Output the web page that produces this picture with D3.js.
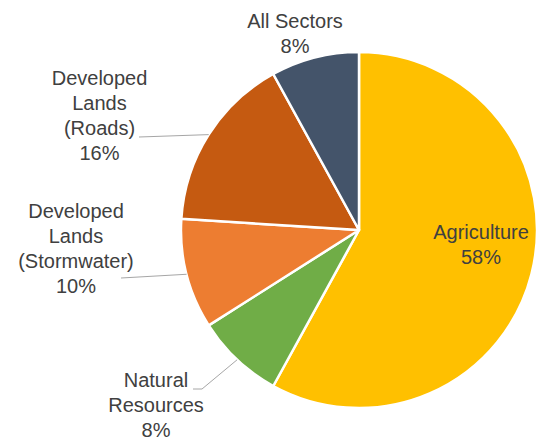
<!DOCTYPE html>
<html><head><meta charset="utf-8">
<script src="https://cdn.jsdelivr.net/npm/d3@7"></script>
<style>body{margin:0;background:#fff;}svg{display:block;}</style>
</head><body>
<svg id="c" width="545" height="444"></svg>
<script>
const categories = ["Agriculture", "Natural Resources", "Developed Lands (Stormwater)", "Developed Lands (Roads)", "All Sectors"];
const values = [58, 8, 10, 16, 8];
const colors = ["#FFC000", "#70AD47", "#ED7D31", "#C55A11", "#44546A"];
const labelLines = [["Agriculture"], ["Natural", "Resources"], ["Developed", "Lands", "(Stormwater)"], ["Developed", "Lands", "(Roads)"], ["All Sectors"]];
// layout: label centre x, first baseline y, leader line bend (null = none)
const labelLayout = [
  {x: 481, y: 239, leader: null},
  {x: 156, y: 387, leader: [[193, 389], [202, 389]]},
  {x: 76, y: 218, leader: [[121, 278]]},
  {x: 99.5, y: 85, leader: [[139, 137]]},
  {x: 295, y: 28, leader: null}
];
const cx = 359, cy = 230, R = 178, lineH = 25;

const svg = d3.select("#c");
const g = svg.append("g").attr("transform", `translate(${cx},${cy})`);
const pie = d3.pie().sort(null).value(d => d)(values);
const arc = d3.arc().innerRadius(0).outerRadius(R);
const total = d3.sum(values);

g.selectAll("path").data(pie).join("path")
  .attr("d", arc)
  .attr("fill", (d, i) => colors[i])
  .attr("stroke", "#fff").attr("stroke-width", 2.5).attr("stroke-linejoin", "round");

pie.forEach((d, i) => {
  const L = labelLayout[i];
  if (L.leader) {
    const a = (d.startAngle + d.endAngle) / 2;
    const rim = [cx + Math.sin(a) * R, cy - Math.cos(a) * R];
    const pts = L.leader.concat([rim]);
    svg.append("path").attr("d", d3.line()(pts))
      .attr("fill", "none").attr("stroke", "#A6A6A6").attr("stroke-width", 1);
  }
  const lines = labelLines[i].concat([Math.round(d.value / total * 100) + "%"]);
  const t = svg.append("text").attr("text-anchor", "middle")
    .attr("font-family", "'Liberation Sans', Arial, sans-serif")
    .attr("font-size", 20).attr("fill", "#404040");
  lines.forEach((s, k) => t.append("tspan").attr("x", L.x).attr("y", L.y + k * lineH).text(s));
});
</script>
</body></html>
